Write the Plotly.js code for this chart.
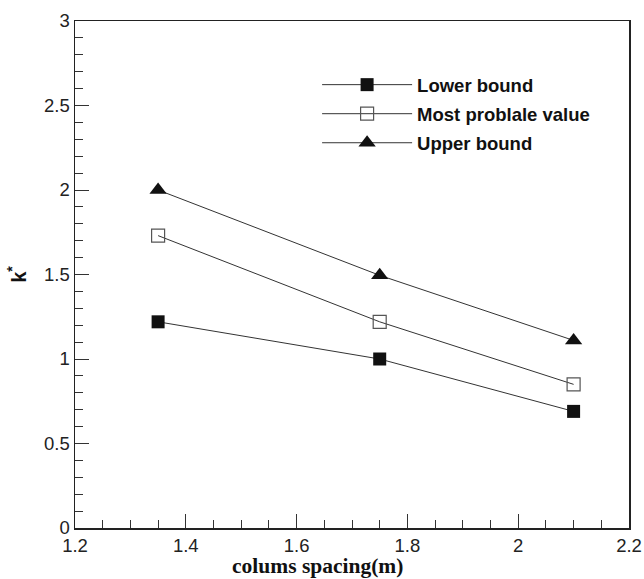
<!DOCTYPE html>
<html>
<head>
<meta charset="utf-8">
<script src="https://cdn.plot.ly/plotly-3.0.1.min.js"></script>
<style>html,body{margin:0;padding:0;background:#fff;}</style>
</head>
<body>
<div id="chart" style="width:644px;height:579px;"></div>
<script>
const spacing = [1.35, 1.75, 2.1];
const lowerBound = [1.22, 1.0, 0.69];
const mostProbable = [1.73, 1.22, 0.85];
const upperBound = [2.0, 1.495, 1.11];
const seriesNames = ['Lower bound', 'Most problale value', 'Upper bound'];
const xTicks = [1.2, 1.4, 1.6, 1.8, 2, 2.2];
const yTicks = [0, 0.5, 1, 1.5, 2, 2.5, 3];

const lineStyle = {color: '#333', width: 1};
const traces = [
  {x: spacing, y: lowerBound, name: seriesNames[0], legendgroup: 'a', mode: 'lines+markers', line: lineStyle,
   marker: {symbol: 'square', size: 13, color: '#111', line: {width: 0}}},
  {x: spacing, y: mostProbable, name: seriesNames[1], legendgroup: 'b', mode: 'lines+markers', line: lineStyle,
   marker: {symbol: 'square-open', size: 13, color: '#555', line: {width: 1.2}}},
  {x: spacing, y: upperBound, name: seriesNames[2], legendgroup: 'c', mode: 'lines+markers', line: lineStyle,
   marker: {symbol: 'triangle-up', size: 15, color: '#111', line: {width: 0}}}
];

const axisCommon = {
  showgrid: false, zeroline: false, showline: true, linecolor: '#222', linewidth: 1.5,
  mirror: true, ticks: 'inside', ticklen: 14, tickwidth: 1, tickcolor: '#333',
  tickfont: {family: 'Liberation Sans, Arial, sans-serif', size: 18.5, color: '#222'}
};

const layout = {
  width: 644, height: 579,
  margin: {l: 75, r: 15, t: 21, b: 51},
  paper_bgcolor: '#fff', plot_bgcolor: '#fff',
  showlegend: true,
  legend: {x: 0.437, y: 0.911, xanchor: 'left', yanchor: 'top', bgcolor: 'rgba(0,0,0,0)',
    font: {family: 'Liberation Sans, Arial, sans-serif', size: 18.5, color: '#111', weight: 'bold'},
    itemwidth: 90, tracegroupgap: 2, traceorder: 'grouped'},
  xaxis: Object.assign({}, axisCommon, {
    range: [1.2, 2.2], tickvals: xTicks, ticktext: xTicks.map(String),
    minor: {dtick: 0.05, ticks: 'inside', ticklen: 8, tickcolor: '#333', tickwidth: 1}
  }),
  yaxis: Object.assign({}, axisCommon, {
    range: [0, 3], tickvals: yTicks, ticktext: yTicks.map(String),
    minor: {dtick: 0.1, ticks: 'inside', ticklen: 8, tickcolor: '#333', tickwidth: 1},
    title: {text: '<b>k<sup>*</sup></b>', standoff: 12,
      font: {family: 'Liberation Sans, Arial, sans-serif', size: 20, color: '#111'}}
  }),
  annotations: [{
    xref: 'paper', yref: 'paper', x: 0.4386, y: -0.075, xanchor: 'center', yanchor: 'middle',
    showarrow: false, text: '<b>colums spacing(m)</b>',
    font: {family: 'Liberation Serif, Times New Roman, serif', size: 21.5, color: '#111'}
  }]
};

Plotly.newPlot('chart', traces, layout, {displayModeBar: false, staticPlot: true});
</script>
</body>
</html>
